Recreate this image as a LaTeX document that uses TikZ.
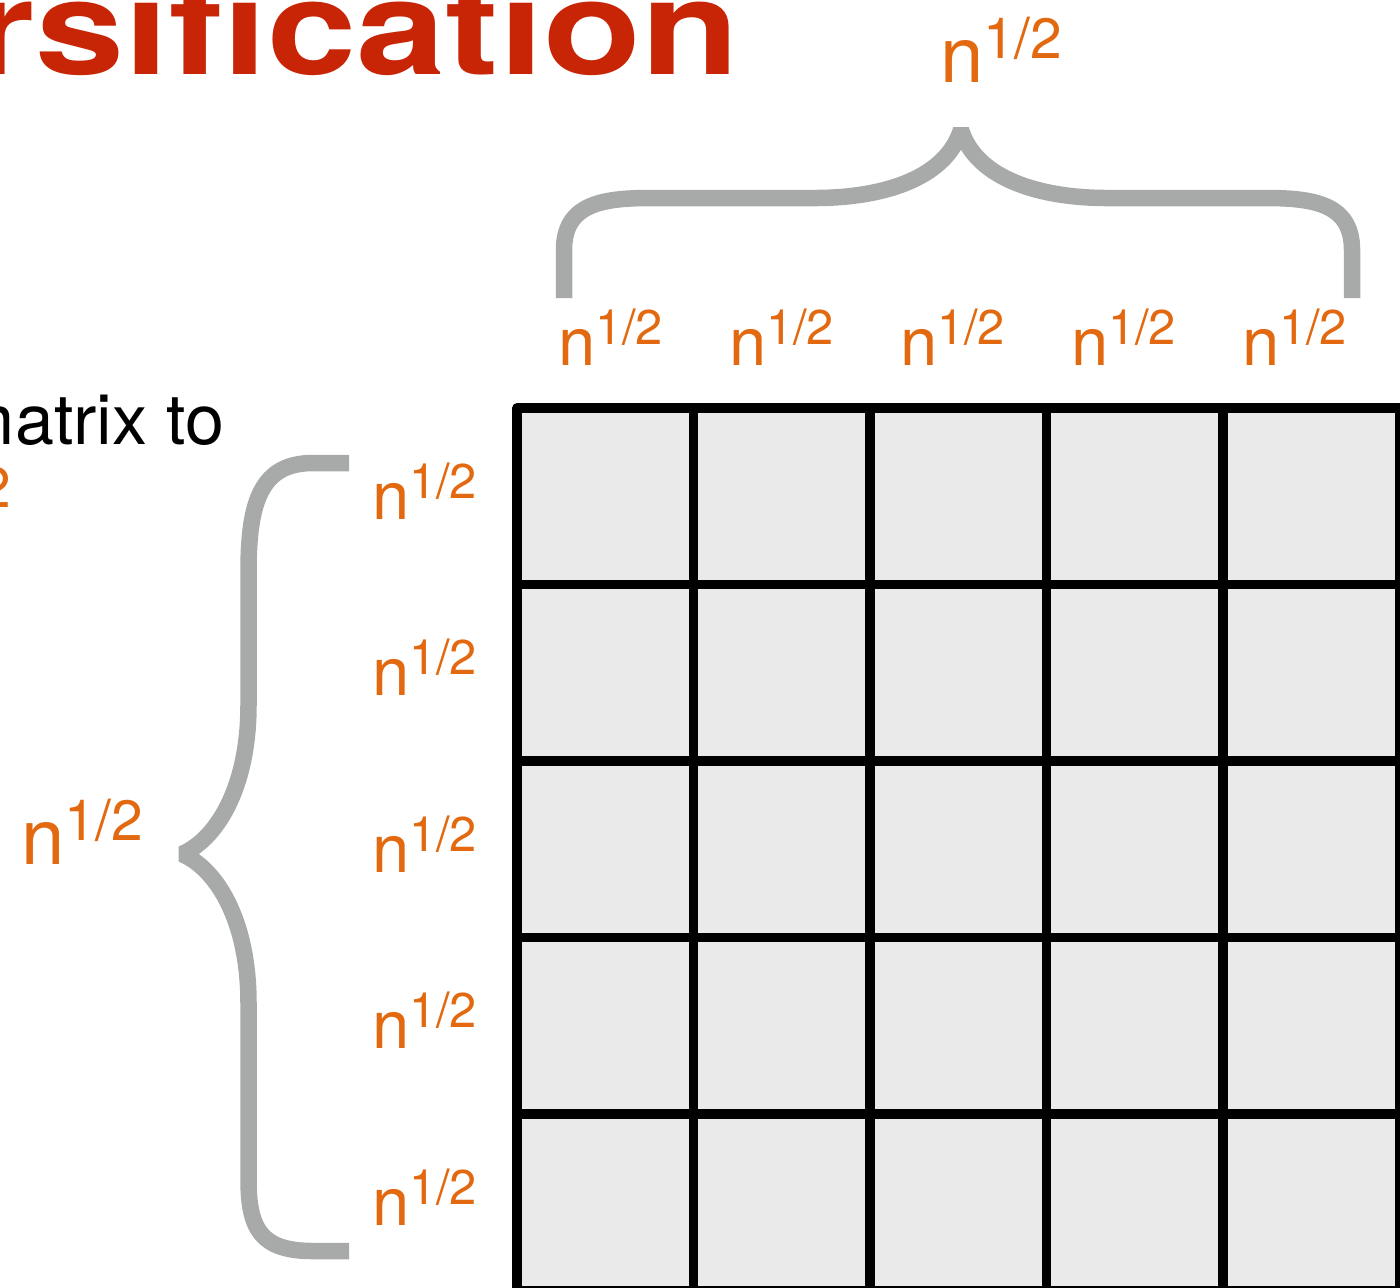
\documentclass[tikz,border=0pt]{standalone}
\usepackage{fontspec}
\setmainfont{TeX Gyre Heros}
\definecolor{titlered}{HTML}{C82406}
\definecolor{lblorange}{HTML}{E2690F}
\definecolor{bracegray}{HTML}{A7AAA8}
\definecolor{cellgray}{HTML}{EAEAEA}
\newcommand\nhalf{n\raisebox{12pt}{\fontsize{28.4}{30}\selectfont 1/2}}
\newcommand\nhalfs{n\raisebox{10.3pt}{\fontsize{24.4}{26}\selectfont 1/2}}
\tikzset{
  lbl/.style={anchor=base west, inner sep=0pt, outer sep=0pt, text=lblorange, font=\fontsize{39}{46}\selectfont},
  lbls/.style={anchor=base west, inner sep=0pt, outer sep=0pt, text=lblorange, font=\fontsize{33.5}{40}\selectfont},
  bracestroke/.style={draw=bracegray, line width=8.25pt, line join=bevel, line cap=butt},
  gridline/.style={draw=black, line width=4.75pt, line cap=butt},
  gridborder/.style={draw=black, line width=4.75pt, line join=round}
}
\begin{document}
\begin{tikzpicture}[x=0.5pt,y=-0.5pt]
\useasboundingbox (0,0) rectangle (1400,1287);
\clip (0,0) rectangle (1400,1287);
% title fragment
\node[anchor=base west, inner sep=0pt, text=titlered, font=\fontsize{66}{70}\selectfont\bfseries] (title) at (-28,74) {\scalebox{1.215}[1]{rsification}};
% body text fragments
\node[anchor=base east, inner sep=0pt, font=\fontsize{35}{42}\selectfont] (mtext) at (225,444) {matrix to};
\node[anchor=base east, inner sep=0pt, text=lblorange, font=\fontsize{28.4}{30}\selectfont] (frag) at (11,507) {2};
% grid
\fill[cellgray] (517,408) rectangle (1399.5,1290.5);
\foreach \i in {1,...,4} {
  \draw[gridline] (517+176.5*\i,408) -- (517+176.5*\i,1290.5);
  \draw[gridline] (517,408+176.5*\i) -- (1399.5,408+176.5*\i);
}
\draw[gridborder] (1399.5,1290.5) -- (1399.5,408) -- (517,408) -- (517,1290.5) -- cycle;
% top brace
\draw[bracestroke] (564,298) -- (564,250) .. controls (564,205) and (600,198) .. (650,198)
  -- (815,198) .. controls (880,198) and (945,180) .. (961,130)
  .. controls (977,180) and (1042,198) .. (1107,198) -- (1266,198)
  .. controls (1316,198) and (1352,205) .. (1352,250) -- (1352,298);
% left brace
\draw[bracestroke] (349,463) -- (313,463) .. controls (262,463) and (248.5,500) .. (248.5,571)
  -- (248.5,705) .. controls (248.5,790) and (215,840) .. (182,854)
  .. controls (215,868) and (248.5,918) .. (248.5,1003) -- (248.5,1180)
  .. controls (248.5,1230) and (262,1251) .. (313,1251) -- (349,1251);
% labels
\node[lbl] (top) at (940,82) {\nhalf};
\node[lbls] (c1) at (558,365) {\nhalfs};
\node[lbls] (c2) at (729,365) {\nhalfs};
\node[lbls] (c3) at (900,365) {\nhalfs};
\node[lbls] (c4) at (1071,365) {\nhalfs};
\node[lbls] (c5) at (1242,365) {\nhalfs};
\node[lbls] (r1) at (372,519) {\nhalfs};
\node[lbls] (r2) at (372,695.5) {\nhalfs};
\node[lbls] (r3) at (372,872) {\nhalfs};
\node[lbls] (r4) at (372,1048.5) {\nhalfs};
\node[lbls] (r5) at (372,1225) {\nhalfs};
\node[lbl] (left) at (21,864) {\nhalf};
\end{tikzpicture}
\end{document}
